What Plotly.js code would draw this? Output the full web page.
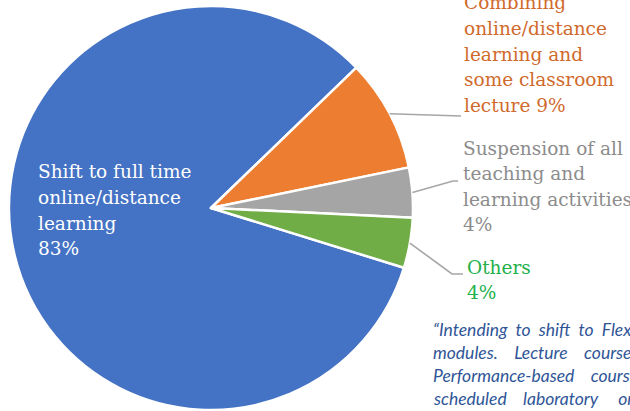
<!DOCTYPE html>
<html>
<head>
<meta charset="utf-8">
<script src="https://cdn.plot.ly/plotly-3.0.1.min.js"></script>
<style>html,body{margin:0;padding:0;overflow:hidden;background:#fff}#chart{width:630px;height:411px}</style>
</head>
<body>
<div id="chart"></div>
<script>
// ---- data ----
var categories = [
  "Shift to full time|online/distance|learning",
  "Combining|online/distance|learning and|some classroom|lecture",
  "Suspension of all|teaching and|learning activities",
  "Others"
];
var values = [83, 9, 4, 4];
var sliceColors = ["#4472C4", "#ED7D31", "#A5A5A5", "#70AD47"];
var labelColors = ["#FFFFFF", "#D06A2C", "#8C8C8C", "#22B04B"];
var noteLines = [
  "\u201CIntending  to  shift  to  Flexible",
  "modules.    Lecture    coursework",
  "Performance-based    courses",
  "scheduled    laboratory     or     sessions"
];

// ---- layout helpers ----
var W = 630, H = 411;
var cxPx = 211, cyPx = 208, rPx = 202;
var rotation = 107.2;
function px(x){ return x / W; }
function py(y){ return 1 - y / H; }

var total = values.reduce(function(a,b){return a+b;},0);
var midAngles = [];
var acc = rotation;
values.forEach(function(v){
  var span = v / total * 360;
  midAngles.push(acc + span/2);
  acc += span;
});
function edgePoint(i){
  var a = midAngles[i] * Math.PI/180;
  return [cxPx + rPx*Math.sin(a), cyPx - rPx*Math.cos(a)];
}
function pct(i){ return Math.round(values[i]/total*100) + "%"; }

// label blocks: left x, first line centre y, whether % joins the last line
var labelPos = [
  {x: 36, y: 172, join: false},
  {x: 462, y: 3, join: true},
  {x: 461, y: 148, join: false},
  {x: 465, y: 267, join: false}
];
var lineStep = 25.6;
var leaderElbows = [
  null,
  [[461, 116]],
  [[453, 181], [458, 181]],
  [[452, 274], [463, 274]]
];

var annotations = [];
categories.forEach(function(c, i){
  var lines = c.split("|");
  if (labelPos[i].join) lines[lines.length-1] += " " + pct(i);
  else lines.push(pct(i));
  lines.forEach(function(t, k){
    annotations.push({
      xref: "paper", yref: "paper",
      x: px(labelPos[i].x), y: py(labelPos[i].y + k*lineStep),
      xanchor: "left", yanchor: "middle", align: "left",
      showarrow: false,
      text: t,
      font: {family: "DejaVu Serif", size: 18.5, color: labelColors[i]}
    });
  });
});
var noteY = [329, 352, 375, 398];
noteLines.forEach(function(t, i){
  annotations.push({
    xref: "paper", yref: "paper",
    x: px(431), y: py(noteY[i]),
    xanchor: "left", yanchor: "middle", align: "left",
    showarrow: false,
    text: "<i>" + t.replace(/ /g, "\u00A0") + "</i>",
    font: {family: "Lato", size: 17.5, color: "#2F5597"}
  });
});

var shapes = [];
for (var i = 1; i < values.length; i++){
  var p = edgePoint(i);
  var d = "M " + px(p[0]) + " " + py(p[1]);
  leaderElbows[i].forEach(function(e){ d += " L " + px(e[0]) + " " + py(e[1]); });
  shapes.push({type: "path", xref: "paper", yref: "paper", path: d,
    line: {color: "#A6A6A6", width: 1.6}});
}

var trace = {
  type: "pie",
  values: values,
  labels: categories.map(function(c){ return c.replace(/\|/g, " "); }),
  sort: false,
  direction: "clockwise",
  rotation: rotation,
  textinfo: "none",
  hoverinfo: "label+percent",
  marker: {colors: sliceColors, line: {color: "#FFFFFF", width: 2.5}},
  domain: {x: [px(cxPx - rPx), px(cxPx + rPx)], y: [py(cyPx + rPx), py(cyPx - rPx)]},
  showlegend: false
};

Plotly.newPlot("chart", [trace], {
  width: W, height: H,
  margin: {l: 0, r: 0, t: 0, b: 0},
  paper_bgcolor: "#FFFFFF",
  showlegend: false,
  annotations: annotations,
  shapes: shapes
}, {displayModeBar: false, staticPlot: true});
</script>
</body>
</html>
